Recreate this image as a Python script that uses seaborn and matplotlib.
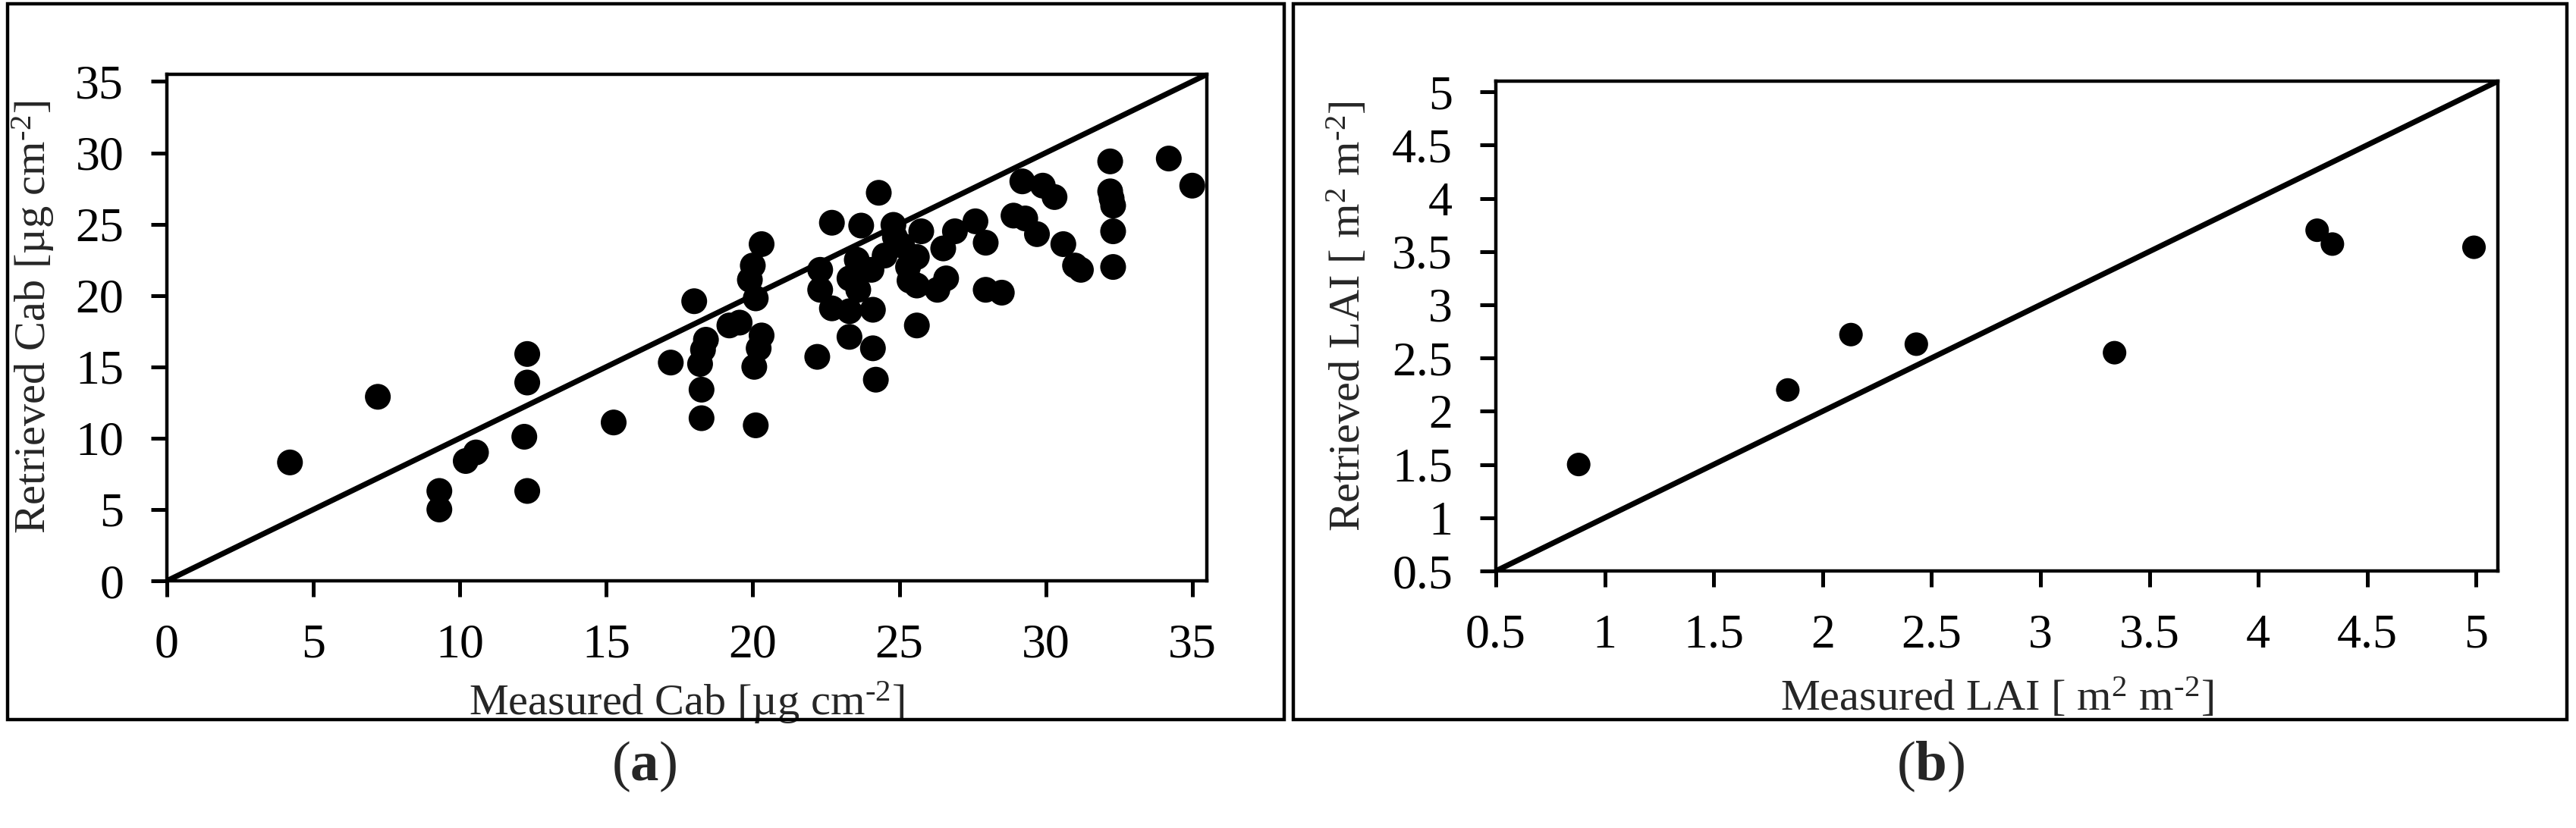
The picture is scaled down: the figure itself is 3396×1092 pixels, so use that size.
import matplotlib
matplotlib.use('Agg')
import matplotlib.pyplot as plt
import seaborn as sns
import pandas as pd
from matplotlib.patches import Rectangle

# Panel (a): chlorophyll content, measured vs retrieved
cab_measured = [4.2, 7.2, 9.3, 9.3, 10.2, 10.55, 12.3, 12.3, 12.2, 12.3,
                15.25, 17.2, 18.0, 18.4, 18.3, 18.2, 18.25, 18.25, 19.2, 19.55,
                19.9, 20.0, 20.1, 20.3, 20.3, 20.2, 20.05, 20.1, 22.2, 22.3,
                22.3, 22.7, 22.7, 23.3, 23.3, 23.3, 23.55, 23.6, 23.7, 24.1,
                24.2, 24.1, 24.05, 24.3, 24.5, 24.8, 24.85, 25.1, 25.3, 25.35,
                25.6, 25.6, 25.75, 25.6, 26.3, 26.6, 26.5, 26.9, 27.6, 27.95,
                27.95, 28.5, 28.9, 29.2, 29.3, 29.7, 29.9, 30.3, 30.6, 31.0,
                31.2, 32.2, 32.2, 32.25, 32.3, 32.3, 32.3, 34.2, 35.0]
cab_retrieved = [8.3, 12.9, 6.3, 5.0, 8.4, 9.0, 15.9, 13.9, 10.1, 6.3,
                 11.1, 15.3, 19.6, 16.9, 16.2, 15.2, 13.4, 11.4, 17.9, 18.1,
                 21.1, 22.1, 19.8, 23.6, 17.2, 16.3, 15.0, 10.9, 15.7, 21.8,
                 20.4, 19.1, 25.1, 18.9, 17.1, 21.2, 22.5, 20.4, 24.9, 16.3,
                 14.1, 19.0, 21.8, 27.2, 22.8, 24.95, 24.1, 23.5, 22.0, 21.05,
                 20.7, 22.7, 24.5, 17.9, 20.4, 21.2, 23.3, 24.5, 25.2, 23.7,
                 20.4, 20.2, 25.6, 28.0, 25.4, 24.3, 27.7, 26.9, 23.6, 22.1,
                 21.8, 29.4, 27.3, 26.8, 26.3, 24.5, 22.0, 29.6, 27.7]

# Panel (b): leaf area index, measured vs retrieved
lai_measured = [0.88, 1.84, 2.13, 2.43, 3.34, 4.27, 4.34, 4.99]
lai_retrieved = [1.50, 2.20, 2.72, 2.63, 2.55, 3.70, 3.57, 3.54]

cab_ticks = [0, 5, 10, 15, 20, 25, 30, 35]
lai_ticks = [0.5, 1, 1.5, 2, 2.5, 3, 3.5, 4, 4.5, 5]

sns.set_style('ticks')
plt.rcParams['font.family'] = ['Liberation Serif', 'DejaVu Serif']
plt.rcParams['mathtext.fontset'] = 'custom'
plt.rcParams['mathtext.rm'] = 'Liberation Serif'
plt.rcParams['mathtext.it'] = 'Liberation Serif:italic'
plt.rcParams['mathtext.bf'] = 'Liberation Serif:bold'

df_a = pd.DataFrame({'measured': cab_measured, 'retrieved': cab_retrieved})
df_b = pd.DataFrame({'measured': lai_measured, 'retrieved': lai_retrieved})

fig = plt.figure(figsize=(16.98, 5.46), dpi=200)

# panel frames
fig.patches.append(Rectangle((0.003, 0.131), 0.4955, 0.8645, transform=fig.transFigure,
                             fill=False, edgecolor='black', linewidth=1.6))
fig.patches.append(Rectangle((0.502, 0.131), 0.4945, 0.8645, transform=fig.transFigure,
                             fill=False, edgecolor='black', linewidth=1.6))

ax1 = fig.add_axes([0.0648, 0.2985, 0.4037, 0.6117])
ax2 = fig.add_axes([0.5807, 0.3104, 0.389, 0.5916])


def style_axes(ax, ticks, lim, xlabel, ylabel, ylab_x, xlab_y):
    ax.set_xlim(lim)
    ax.set_ylim(lim)
    ax.set_xticks(ticks)
    ax.set_yticks(ticks)
    ax.set_xticklabels([f'{t:g}' for t in ticks])
    ax.set_yticklabels([f'{t:g}' for t in ticks])
    for s in ax.spines.values():
        s.set_visible(True)
        s.set_linewidth(1.6)
        s.set_color('black')
    ax.tick_params(direction='out', length=7.5, width=1.8, pad=13,
                   labelsize=23, colors='black', top=False, right=False)
    ax.set_xlabel(xlabel, fontsize=21)
    ax.set_ylabel(ylabel, fontsize=21)
    ax.xaxis.set_label_coords(0.5, xlab_y)
    ax.xaxis.label.set_va('center')
    ax.yaxis.set_label_coords(ylab_x, 0.52)
    ax.yaxis.label.set_va('center')


sns.scatterplot(data=df_a, x='measured', y='retrieved', ax=ax1, color='black',
                s=150, edgecolor='none', zorder=3)
ax1.axline((0, 0), slope=1, color='black', linewidth=2.6, zorder=2)
style_axes(ax1, cab_ticks, (0, 35.5),
           r'Measured Cab [µg cm$^{\text{-2}}$]', r'Retrieved Cab [µg cm$^{\text{-2}}$]',
           -0.129, -0.24)

sns.scatterplot(data=df_b, x='measured', y='retrieved', ax=ax2, color='black',
                s=125, edgecolor='none', zorder=3)
ax2.axline((0.5, 0.5), slope=1, color='black', linewidth=2.6, zorder=2)
style_axes(ax2, lai_ticks, (0.5, 5.1),
           r'Measured LAI [ m$^{2}$ m$^{\text{-2}}$]', r'Retrieved LAI [ m$^{2}$ m$^{\text{-2}}$]',
           -0.148, -0.26)

fig.text(0.25, 0.074, r'($\mathbf{a}$)', ha='center', va='center', fontsize=27)
fig.text(0.7494, 0.074, r'($\mathbf{b}$)', ha='center', va='center', fontsize=27)

fig.savefig('out.png', dpi=200)
